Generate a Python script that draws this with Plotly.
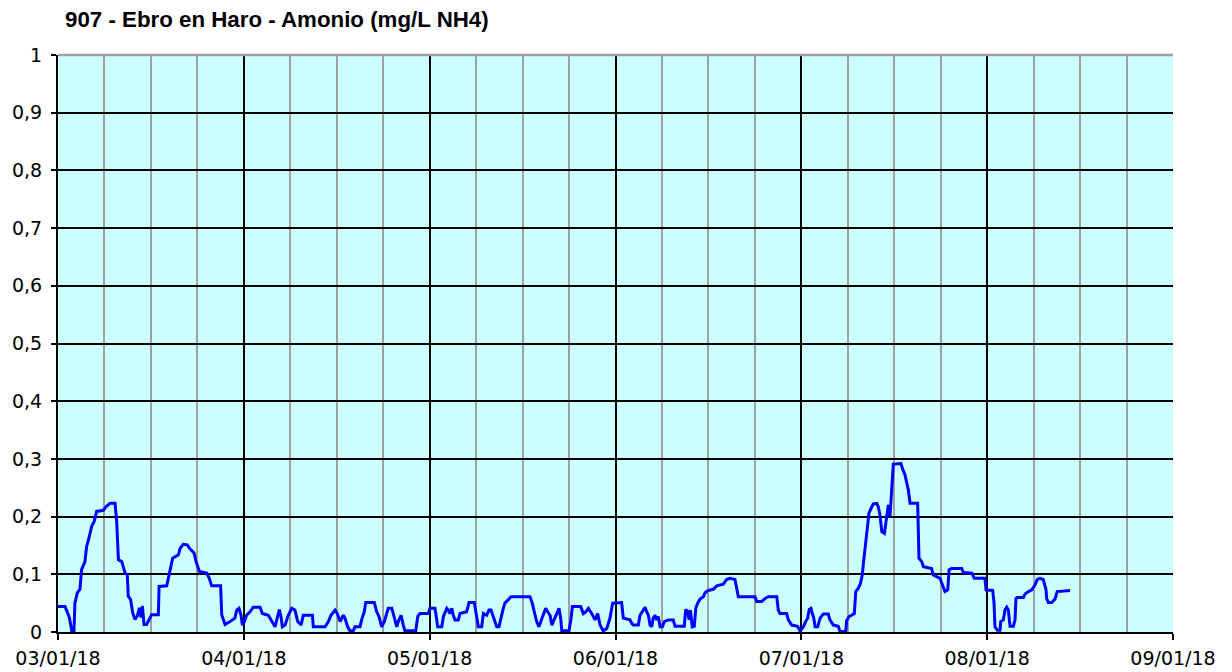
import plotly.graph_objects as go

# time position in months since 03/01/18 (axis: one unit per month)
t_months = [
    0.000, 0.038, 0.047, 0.061, 0.074, 0.086, 0.091, 0.104, 0.118, 0.127,
    0.145, 0.154, 0.169, 0.181, 0.194, 0.208, 0.244, 0.258, 0.280, 0.307,
    0.316, 0.325, 0.343, 0.361, 0.373, 0.378, 0.391, 0.402, 0.414, 0.427,
    0.438, 0.447, 0.454, 0.463, 0.477, 0.491, 0.504, 0.540, 0.544, 0.585,
    0.597, 0.617, 0.648, 0.657, 0.674, 0.696, 0.710, 0.732, 0.743, 0.761,
    0.800, 0.814, 0.827, 0.875, 0.881, 0.899,
    0.926, 0.952, 0.962, 0.974, 0.985, 0.992, 1.003, 1.015, 1.033, 1.051,
    1.087, 1.100, 1.132, 1.150, 1.168, 1.182, 1.191, 1.200, 1.207, 1.222,
    1.239, 1.258, 1.275, 1.290, 1.308, 1.320, 1.369, 1.374, 1.437, 1.455,
    1.469, 1.491, 1.503, 1.518, 1.535, 1.544, 1.559, 1.571, 1.589, 1.598,
    1.625, 1.634, 1.648, 1.656, 1.702, 1.715, 1.727, 1.742, 1.756, 1.777,
    1.796, 1.804, 1.823, 1.831, 1.846, 1.858, 1.867, 1.925, 1.936, 1.948,
    1.993, 2.002, 2.029, 2.038, 2.043, 2.065, 2.074, 2.092, 2.100, 2.109,
    2.119, 2.127, 2.136, 2.154, 2.163, 2.199, 2.212, 2.240, 2.253, 2.262,
    2.280, 2.289, 2.307, 2.319, 2.330, 2.343, 2.361, 2.373, 2.384, 2.396,
    2.405, 2.420, 2.438, 2.540, 2.552, 2.563, 2.576, 2.588, 2.599, 2.612,
    2.624, 2.635, 2.648, 2.657, 2.671, 2.684, 2.696, 2.705, 2.711, 2.750,
    2.761, 2.768, 2.813, 2.827, 2.840, 2.854, 2.872, 2.890, 2.904, 2.917,
    2.934, 2.953, 2.970, 2.985,
    3.033, 3.042, 3.078, 3.087, 3.096, 3.123, 3.132, 3.150, 3.159, 3.168,
    3.177, 3.186, 3.195, 3.203, 3.213, 3.222, 3.230, 3.240, 3.252, 3.263,
    3.284, 3.311, 3.320, 3.370, 3.378, 3.389, 3.396, 3.403, 3.413, 3.424,
    3.432, 3.442, 3.455, 3.473, 3.482, 3.499, 3.526, 3.545, 3.580, 3.598,
    3.616, 3.643, 3.652, 3.661, 3.751, 3.760, 3.787, 3.805, 3.822, 3.868,
    3.876, 3.885, 3.921, 3.930, 3.948, 3.980, 3.993,
    4.011, 4.023, 4.034, 4.043, 4.052, 4.059, 4.067, 4.074, 4.088, 4.101,
    4.118, 4.145, 4.154, 4.172, 4.199, 4.208, 4.239, 4.244, 4.257, 4.271,
    4.285, 4.293, 4.307, 4.318, 4.328, 4.334, 4.343, 4.352, 4.364, 4.375,
    4.387, 4.406, 4.414, 4.423, 4.433, 4.447, 4.454, 4.461, 4.468, 4.477,
    4.483, 4.490, 4.495, 4.536, 4.543, 4.558, 4.567, 4.576, 4.585, 4.626,
    4.630, 4.633, 4.648, 4.657, 4.701, 4.710, 4.728, 4.746, 4.759, 4.773,
    4.788, 4.795, 4.809, 4.863, 4.872, 4.917, 4.931,
    4.988, 4.994, 5.030, 5.037, 5.042, 5.055, 5.069, 5.073, 5.087, 5.096,
    5.105, 5.114, 5.123, 5.141, 5.150, 5.155, 5.162, 5.195, 5.204, 5.222,
    5.240, 5.258, 5.270, 5.284, 5.302, 5.317, 5.320, 5.329, 5.347, 5.365,
    5.377, 5.446,
]

# ammonium, mg/L NH4
nh4_mgL = [
    0.044, 0.044, 0.037, 0.025, 0.002, 0.002, 0.050, 0.068, 0.074, 0.108,
    0.122, 0.148, 0.166, 0.183, 0.191, 0.209, 0.211, 0.217, 0.223, 0.223,
    0.191, 0.125, 0.122, 0.102, 0.099, 0.062, 0.056, 0.033, 0.022, 0.028,
    0.042, 0.025, 0.045, 0.013, 0.013, 0.022, 0.030, 0.030, 0.079, 0.080,
    0.097, 0.128, 0.134, 0.145, 0.152, 0.151, 0.144, 0.137, 0.122, 0.105,
    0.102, 0.093, 0.080, 0.080, 0.030, 0.013,
    0.018, 0.024, 0.038, 0.041, 0.029, 0.012, 0.018, 0.029, 0.035, 0.043,
    0.043, 0.032, 0.029, 0.018, 0.009, 0.027, 0.039, 0.027, 0.009, 0.012,
    0.029, 0.041, 0.038, 0.018, 0.012, 0.029, 0.029, 0.009, 0.009, 0.018,
    0.029, 0.038, 0.032, 0.018, 0.029, 0.024, 0.009, 0.002, 0.002, 0.009,
    0.009, 0.021, 0.035, 0.051, 0.051, 0.035, 0.027, 0.009, 0.018, 0.041,
    0.041, 0.032, 0.009, 0.018, 0.029, 0.012, 0.002, 0.002, 0.027, 0.032,
    0.032, 0.041, 0.041, 0.021, 0.009, 0.009, 0.027, 0.041, 0.038, 0.032,
    0.041, 0.029, 0.021, 0.021, 0.032, 0.035, 0.051, 0.051, 0.029, 0.009,
    0.009, 0.032, 0.029, 0.038, 0.038, 0.027, 0.009, 0.009, 0.027, 0.041,
    0.050, 0.055, 0.061, 0.061, 0.050, 0.035, 0.018, 0.009, 0.018, 0.029,
    0.041, 0.035, 0.029, 0.012, 0.021, 0.032, 0.041, 0.024, 0.002, 0.002,
    0.024, 0.044, 0.044, 0.032, 0.035, 0.041, 0.032, 0.021, 0.032, 0.012,
    0.002, 0.006, 0.024, 0.050,
    0.051, 0.024, 0.021, 0.015, 0.012, 0.012, 0.029, 0.038, 0.043, 0.035,
    0.029, 0.012, 0.009, 0.024, 0.029, 0.021, 0.027, 0.009, 0.009, 0.018,
    0.021, 0.021, 0.010, 0.010, 0.039, 0.035, 0.021, 0.038, 0.009, 0.010,
    0.041, 0.050, 0.057, 0.061, 0.068, 0.072, 0.074, 0.080, 0.083, 0.091,
    0.093, 0.091, 0.073, 0.061, 0.061, 0.053, 0.053, 0.058, 0.061, 0.061,
    0.038, 0.032, 0.032, 0.021, 0.012, 0.010, 0.002,
    0.009, 0.018, 0.024, 0.039, 0.041, 0.032, 0.024, 0.009, 0.009, 0.024,
    0.031, 0.031, 0.021, 0.012, 0.010, 0.001, 0.001, 0.020, 0.027, 0.029,
    0.032, 0.070, 0.076, 0.084, 0.099, 0.119, 0.148, 0.177, 0.206, 0.214,
    0.222, 0.223, 0.217, 0.203, 0.174, 0.171, 0.191, 0.208, 0.220, 0.200,
    0.232, 0.249, 0.291, 0.292, 0.284, 0.272, 0.258, 0.246, 0.223, 0.223,
    0.171, 0.128, 0.122, 0.113, 0.110, 0.099, 0.096, 0.093, 0.082, 0.070,
    0.073, 0.108, 0.110, 0.110, 0.103, 0.102, 0.093,
    0.093, 0.073, 0.072, 0.050, 0.009, 0.003, 0.003, 0.018, 0.021, 0.038,
    0.043, 0.038, 0.010, 0.010, 0.021, 0.058, 0.060, 0.060, 0.066, 0.070,
    0.073, 0.082, 0.091, 0.093, 0.091, 0.073, 0.058, 0.051, 0.051, 0.057,
    0.070, 0.072,
]

x_tick_pos = [0, 1, 2, 3, 4, 5, 6]
x_tick_labels = ["03/01/18", "04/01/18", "05/01/18", "06/01/18",
                 "07/01/18", "08/01/18", "09/01/18"]

title_text = "907 - Ebro en Haro - Amonio (mg/L NH4)"

# the page body has an 8px default margin, so the figure is sized to fit
FIG_W, FIG_H = 1224, 664

fig = go.Figure(
    go.Scatter(
        x=t_months, y=nh4_mgL, mode="lines",
        line=dict(color="#0000FF", width=3),
        hoverinfo="skip",
    )
)

fig.update_layout(
    width=FIG_W, height=FIG_H,
    margin=dict(l=50, r=59, t=47, b=40, pad=0),
    paper_bgcolor="white",
    plot_bgcolor="#CCFFFF",
    separators=",.",
    showlegend=False,
    font=dict(family="DejaVu Sans", size=19, color="black"),
    title=dict(
        text="<b>" + title_text + "</b>",
        xref="container", x=57 / FIG_W, xanchor="left",
        yref="container", y=1 - 11 / FIG_H, yanchor="middle",
        font=dict(family="Liberation Sans", size=22.3, color="black"),
    ),
    xaxis=dict(
        range=[0, 6], automargin=False,
        tickmode="array", tickvals=x_tick_pos, ticktext=x_tick_labels,
        showgrid=True, gridcolor="#000000", gridwidth=1.5,
        ticks="outside", ticklen=6, tickwidth=1.5, tickcolor="black",
        ticklabelstandoff=2,
        showline=True, linecolor="black", linewidth=2,
        zeroline=False,
        minor=dict(tickmode="linear", tick0=0, dtick=0.25, showgrid=True,
                   gridcolor="#A0A0A0", gridwidth=1.5, ticks=""),
    ),
    yaxis=dict(
        range=[0, 1], automargin=False,
        tickmode="linear", tick0=0, dtick=0.1,
        showgrid=True, gridcolor="#000000", gridwidth=1.5,
        ticks="outside", ticklen=5, tickwidth=1.5, tickcolor="black",
        ticklabelstandoff=5,
        showline=True, linecolor="black", linewidth=2,
        zeroline=False,
    ),
    shapes=[dict(type="line", xref="paper", yref="paper",
                 x0=0, x1=1, y0=1, y1=1,
                 line=dict(color="#A0A0A0", width=2.5), layer="above")],
)

fig.write_html("out.html")
